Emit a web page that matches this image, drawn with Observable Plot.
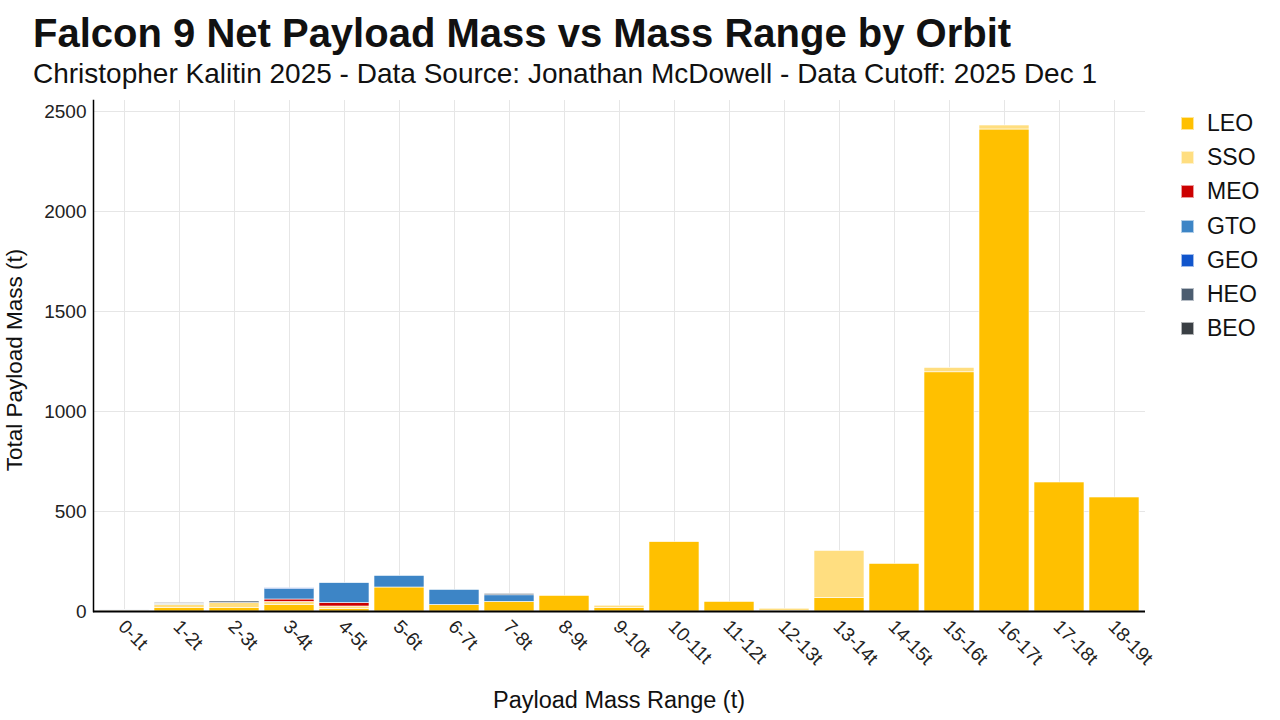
<!DOCTYPE html>
<html>
<head>
<meta charset="utf-8">
<script src="https://cdn.jsdelivr.net/npm/d3@7"></script>
<script src="https://cdn.jsdelivr.net/npm/@observablehq/plot@0.6"></script>
<style>
  html, body { margin: 0; padding: 0; background: #fff; width: 1280px; height: 720px; overflow: hidden; font-family: "Liberation Sans", Arial, sans-serif; color: #111; }
  #title { position: absolute; left: 33px; top: 33px; font-size: 40px; font-weight: bold; white-space: nowrap; line-height: 0; }
  #subtitle { position: absolute; left: 33px; top: 74px; font-size: 28px; white-space: nowrap; line-height: 0; }
  #chart { position: absolute; left: 0; top: 90px; }
  #xlabel { position: absolute; left: 93px; width: 1052px; text-align: center; top: 700px; font-size: 23.5px; transform: translateY(-50%); }
  #ylabel { position: absolute; left: 15px; top: 360px; font-size: 22.5px; transform: translate(-50%, -50%) rotate(-90deg); white-space: nowrap; }
  #legend { position: absolute; left: 1181px; top: 106px; }
  .lg { display: flex; align-items: center; height: 34.3px; font-size: 23px; }
  .sw { width: 13px; height: 13px; margin-right: 13px; box-sizing: border-box; border: 1px solid rgba(255,255,255,0.6); }
  #chart svg text { font-family: "Liberation Sans", Arial, sans-serif; }
</style>
</head>
<body>
<div id="title">Falcon 9 Net Payload Mass vs Mass Range by Orbit</div>
<div id="subtitle">Christopher Kalitin 2025 - Data Source: Jonathan McDowell - Data Cutoff: 2025 Dec 1</div>
<div id="chart"></div>
<div id="xlabel">Payload Mass Range (t)</div>
<div id="ylabel">Total Payload Mass (t)</div>
<div id="legend"></div>
<script>
const categories = ["0-1t","1-2t","2-3t","3-4t","4-5t","5-6t","6-7t","7-8t","8-9t","9-10t","10-11t","11-12t","12-13t","13-14t","14-15t","15-16t","16-17t","17-18t","18-19t"];
const orbits = ["LEO","SSO","MEO","GTO","GEO","HEO","BEO"];
const orbitColors = ["#FFC000","#FFDE80","#CC0000","#3D85C6","#1155CC","#4C5D70","#3A3F44"];
const LEO = [3,18,17,32,12,120,33,48,78,17,347,48,2,67,238,1196,2410,645,570];
const SSO = [2,16,25,16,13,0,0,0,0,12,0,0,12,236,0,22,20,0,0];
const MEO = [0,0,0,12,17,0,0,0,0,0,0,0,0,0,0,0,0,0,0];
const GTO = [0,2,0,52,100,58,75,33,0,0,0,0,0,0,0,0,0,0,0];
const GEO = [0,0,0,4,0,0,0,0,0,0,0,0,0,0,0,0,0,0,0];
const HEO = [2,3,8,0,0,0,0,7,0,0,0,0,0,0,0,0,0,0,0];
const BEO = [0,4,0,0,0,0,0,0,0,0,0,0,0,0,0,0,0,0,0];
const yTicks = [0,500,1000,1500,2000,2500];

const series = {LEO, SSO, MEO, GTO, GEO, HEO, BEO};
const rows = [];
orbits.forEach(o => categories.forEach((c, i) => {
  if (series[o][i] > 0) rows.push({range: c, orbit: o, mass: series[o][i]});
}));

const chart = Plot.plot({
  width: 1280,
  height: 630,
  marginLeft: 93,
  marginRight: 135,
  marginTop: 10,
  marginBottom: 109,
  style: {fontSize: "19px", color: "#222", background: "transparent"},
  x: {domain: categories, paddingInner: 0.1, paddingOuter: 0.05, label: null},
  y: {domain: [0, 2555], label: null},
  color: {domain: orbits, range: orbitColors},
  marks: [
    Plot.gridX(categories, {stroke: "#e6e6e6", strokeOpacity: 1, strokeWidth: 1}),
    Plot.gridY(yTicks, {stroke: "#e6e6e6", strokeOpacity: 1, strokeWidth: 1}),
    Plot.barY(rows, Plot.stackY({order: null}, {x: "range", y: "mass", z: "orbit", fill: "orbit", stroke: "white", strokeWidth: 0.6, inset: 0})),
    Plot.axisX({tickRotate: 45, tickSize: 0, tickPadding: 12, dx: -3, fontSize: 19, label: null}),
    Plot.axisY({ticks: yTicks, tickFormat: d => String(d), tickSize: 0, tickPadding: 7, fontSize: 19, label: null}),
    Plot.ruleY([0], {stroke: "black", strokeWidth: 2}),
    Plot.frame({anchor: "left", stroke: "black", strokeWidth: 1.5})
  ]
});
document.getElementById("chart").appendChild(chart);

const legend = document.getElementById("legend");
orbits.forEach((o, i) => {
  const row = document.createElement("div");
  row.className = "lg";
  row.innerHTML = `<div class="sw" style="background:${orbitColors[i]}"></div><span>${o}</span>`;
  legend.appendChild(row);
});
</script>
</body>
</html>
